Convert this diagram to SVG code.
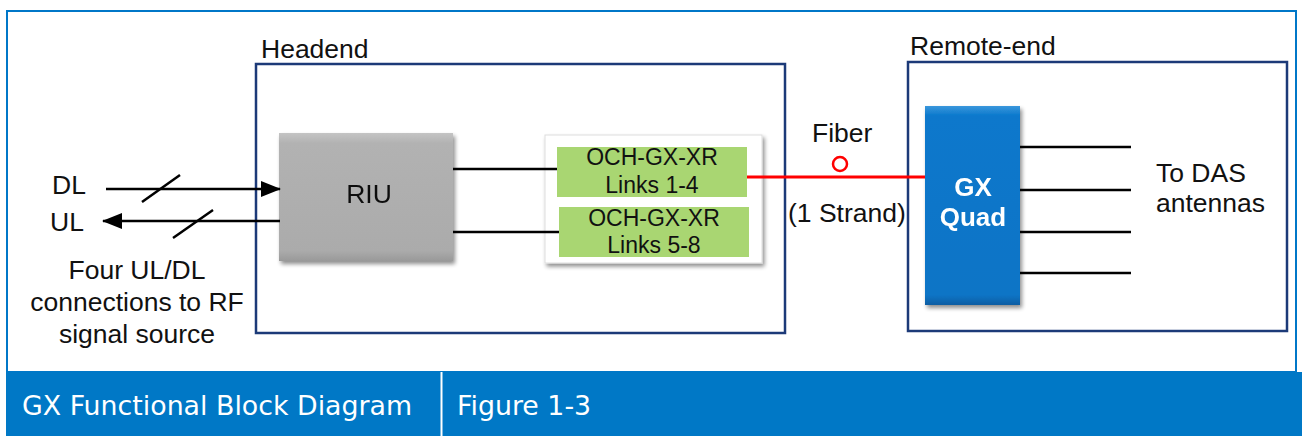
<svg xmlns="http://www.w3.org/2000/svg" width="1302" height="436" viewBox="0 0 1302 436">
<defs>
<style>
.t{font-family:"Liberation Sans",Arial,sans-serif;font-size:26.5px;fill:#111}
.c{text-anchor:middle}
.frame{fill:none;stroke:#1c3a78;stroke-width:2.5}
.wire{stroke:#000;stroke-width:2.5;fill:none}
.cap{font-family:"DejaVu Sans",Verdana,sans-serif;font-size:26.8px;fill:#fff}
</style>
<linearGradient id="gray" x1="0" y1="0" x2="0" y2="1">
<stop offset="0" stop-color="#c4c4c4"/><stop offset="0.08" stop-color="#b2b2b2"/><stop offset="0.92" stop-color="#ababab"/><stop offset="1" stop-color="#999"/>
</linearGradient>
<linearGradient id="blue" x1="0" y1="0" x2="0" y2="1">
<stop offset="0" stop-color="#3a97dc"/><stop offset="0.05" stop-color="#0a78cc"/><stop offset="0.95" stop-color="#0a74c6"/><stop offset="1" stop-color="#075ea3"/>
</linearGradient>
<filter id="sh" x="-10%" y="-10%" width="125%" height="125%">
<feGaussianBlur in="SourceAlpha" stdDeviation="2"/><feOffset dx="2" dy="3"/>
<feComponentTransfer><feFuncA type="linear" slope="0.45"/></feComponentTransfer>
<feMerge><feMergeNode/><feMergeNode in="SourceGraphic"/></feMerge>
</filter>
<marker id="ah" markerWidth="20" markerHeight="16" refX="19" refY="8" orient="auto" markerUnits="userSpaceOnUse">
<path d="M0,0 L20,8 L0,16 Z" fill="#000"/>
</marker>
</defs>
<rect x="0" y="0" width="1302" height="436" fill="#fff"/>
<rect x="7" y="11" width="1289" height="361" fill="none" stroke="#0077c8" stroke-width="2"/>

<g id="caption">
<rect x="6" y="372" width="1296" height="64" fill="#0078c6"/>
<line x1="441.5" y1="372" x2="441.5" y2="436" stroke="#fff" stroke-width="2"/>
<text class="cap" x="22" y="415">GX Functional Block Diagram</text>
<text class="cap" x="457" y="415">Figure 1-3</text>
</g>

<g id="headend">
<rect class="frame" x="256" y="64" width="529" height="269"/>
<text class="t" x="261" y="58">Headend</text>
</g>

<g id="remote-end">
<rect class="frame" x="908" y="62" width="379" height="269"/>
<text class="t" x="910" y="55">Remote-end</text>
</g>

<g id="signal-source">
<text class="t" x="52" y="194">DL</text>
<text class="t" x="50" y="231">UL</text>
<text class="t c" x="137" y="279">Four UL/DL</text>
<text class="t c" x="137" y="311">connections to RF</text>
<text class="t c" x="137" y="343">signal source</text>
</g>

<g id="riu" filter="url(#sh)">
<rect x="279" y="133" width="174" height="128" fill="url(#gray)"/>
<text class="t c" x="369" y="203" font-size="27">RIU</text>
</g>

<g id="och" >
<rect x="545" y="135" width="217" height="128" fill="#fff" stroke="#ddd" stroke-width="1" filter="url(#sh)"/>
<g id="och-1">
<rect x="557" y="147" width="190" height="50" fill="#a9d672"/>
<text class="t c" x="652" y="165" style="font-size:23px">OCH-GX-XR</text>
<text class="t c" x="652" y="193" style="font-size:23px">Links 1-4</text>
</g>
<g id="och-2">
<rect x="559" y="207" width="190" height="50" fill="#a9d672"/>
<text class="t c" x="654" y="226" style="font-size:23px">OCH-GX-XR</text>
<text class="t c" x="654" y="253" style="font-size:23px">Links 5-8</text>
</g>
</g>

<g id="gx-quad" filter="url(#sh)">
<rect x="925" y="106" width="95" height="199" fill="url(#blue)"/>
<text class="t c" x="973" y="196" style="fill:#fff;font-weight:bold;font-size:26px">GX</text>
<text class="t c" x="973" y="226" style="fill:#fff;font-weight:bold;font-size:26px">Quad</text>
</g>

<g id="das">
<text class="t" x="1156" y="182">To DAS</text>
<text class="t" x="1156" y="212">antennas</text>
</g>

<g id="fiber-label">
<text class="t" x="812" y="142">Fiber</text>
<text class="t" x="788" y="222">(1 Strand)</text>
</g>

<g id="connectors">
<line class="wire" x1="106" y1="189" x2="280" y2="189" marker-end="url(#ah)"/>
<line class="wire" x1="280" y1="221" x2="103" y2="221" marker-end="url(#ah)"/>
<line class="wire" x1="142" y1="202" x2="180" y2="175"/>
<line class="wire" x1="173" y1="238" x2="213" y2="210"/>
<line class="wire" x1="453" y1="169" x2="557" y2="169"/>
<line class="wire" x1="453" y1="232" x2="559" y2="232"/>
<line x1="747" y1="177" x2="925" y2="177" stroke="#ff0000" stroke-width="3"/>
<circle cx="840" cy="164" r="7" fill="#fff" stroke="#ff0000" stroke-width="2.5"/>
<line class="wire" x1="1020" y1="147" x2="1131" y2="147"/>
<line class="wire" x1="1020" y1="190" x2="1131" y2="190"/>
<line class="wire" x1="1020" y1="232" x2="1131" y2="232"/>
<line class="wire" x1="1020" y1="273" x2="1131" y2="273"/>
</g>
</svg>
